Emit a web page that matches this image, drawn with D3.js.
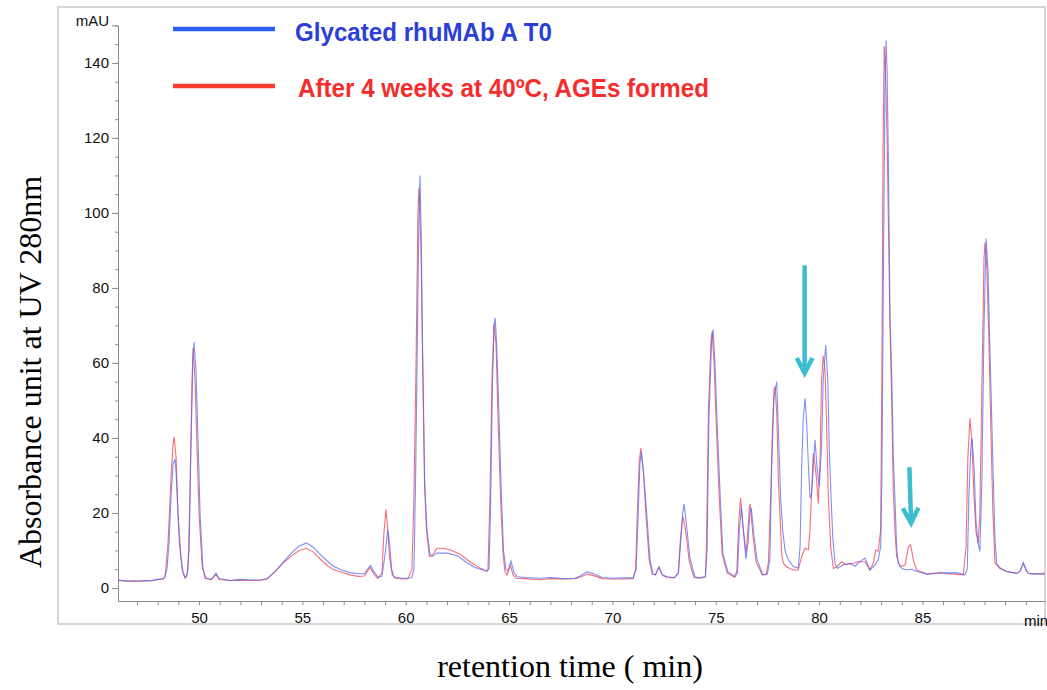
<!DOCTYPE html>
<html>
<head>
<meta charset="utf-8">
<script src="https://cdn.jsdelivr.net/npm/d3@7"></script>
<style>
  body { margin: 0; background: #fff; }
  .tick text { font-family: "Liberation Sans Narrow", "Arial Narrow", "Liberation Sans", Arial, sans-serif; font-size: 15px; fill: #111; }
  .axis path, .axis line { stroke: #8a8a8a; }
</style>
</head>
<body>
<div id="chart"></div>
<script>
// x ticks every minute, labels every 5 min
var xTicks = d3.range(47, 91);
var xLabels = [50, 55, 60, 65, 70, 75, 80, 85];
// y ticks every 5 mAU, labels every 20
var yMinor = d3.range(0, 151, 5);
var yLabels = [0, 20, 40, 60, 80, 100, 120, 140];

var legendNames = ["Glycated rhuMAb A T0", "After 4 weeks at 40ºC, AGEs formed"];

// [retention time (min), absorbance (mAU)]
var blueT0 = [
  [46.08,2.1],[46.5,1.9],[46.9,1.8],[47.3,2.0],[47.7,1.9],[47.97,2.3],[48.3,2.5],[48.45,5],[48.55,12],[48.65,25],
  [48.75,33],[48.84,34.4],[48.9,30],[48.98,20],[49.05,12],[49.18,5],[49.32,2.8],[49.42,3.5],[49.52,10],[49.6,35],
  [49.7,60],[49.76,65.6],[49.85,58],[49.95,40],[50.05,20],[50.19,5],[50.35,2.5],[50.6,2.3],[50.82,4],[50.97,2.5],
  [51.5,2.0],[52.0,2.3],[52.5,2.1],[53.0,2.2],[53.3,2.5],[53.7,4.5],[54.1,7],[54.5,9.5],[54.85,11.2],[55.2,12],
  [55.5,11],[55.85,9],[56.2,7.2],[56.5,5.8],[56.9,4.8],[57.3,4.1],[57.7,3.8],[58.0,3.8],[58.15,5],[58.3,6],
  [58.45,4.5],[58.65,2.9],[58.85,3.2],[58.98,8],[59.08,13],[59.14,15.5],[59.22,12],[59.32,5],[59.42,3],[59.8,2.6],
  [60.1,2.6],[60.3,2.8],[60.4,5],[60.48,30],[60.55,60],[60.63,95],[60.69,110],[60.75,94],[60.82,63],[60.92,28],
  [61.02,16],[61.17,9],[61.3,8.5],[61.5,9.3],[62.0,9.3],[62.5,8.6],[62.9,7],[63.3,5.6],[63.6,5.0],[63.92,4.6],
  [64.03,5],[64.1,20],[64.2,55],[64.28,70],[64.33,72],[64.4,65],[64.47,54],[64.61,28],[64.73,10],[64.85,5],
  [64.95,4.5],[65.09,7.2],[65.25,4],[65.4,3],[65.8,2.8],[66.5,2.6],[67.0,2.8],[67.6,2.5],[68.2,2.6],[68.5,3.4],
  [68.77,4.3],[69.1,3.8],[69.5,2.8],[70.0,2.6],[70.6,2.7],[71.0,2.7],[71.15,5],[71.25,20],[71.33,33],[71.4,36.3],
  [71.52,30],[71.67,19],[71.82,7.5],[71.96,3.7],[72.08,3.5],[72.25,5.6],[72.42,3.5],[72.64,3],[73.0,2.8],[73.2,4],
  [73.3,12],[73.4,20],[73.47,22.4],[73.58,17],[73.75,8],[73.99,3],[74.2,2.7],[74.5,3],[74.58,10],[74.67,45],
  [74.8,66],[74.87,69],[74.96,60],[75.06,45],[75.21,25],[75.35,9],[75.59,4.3],[75.93,3],[76.05,4],[76.14,15],
  [76.24,21.6],[76.35,15],[76.46,7.7],[76.56,12],[76.65,20],[76.72,21.3],[76.85,14],[77.0,7.5],[77.29,3.5],[77.5,3.8],
  [77.62,7.5],[77.71,33],[77.82,51],[77.95,55],[78.03,42],[78.14,24],[78.24,15.5],[78.35,10],[78.51,7.5],[78.75,5.7],
  [78.99,5.3],[79.08,11],[79.16,33],[79.24,45.7],[79.32,50.6],[79.4,44],[79.48,33],[79.56,24],[79.64,25],[79.8,39.5],
  [79.91,31.5],[80.01,27],[80.12,37.7],[80.2,55.5],[80.32,64.8],[80.42,55.5],[80.49,37.7],[80.58,24],[80.66,13.7],[80.77,6.6],
  [80.88,5.2],[81.17,6.2],[81.49,6.6],[81.74,5.8],[81.98,7.1],[82.22,8],[82.46,4.8],[82.7,6.1],[82.86,7.5],[82.98,11],
  [83.04,30],[83.12,90],[83.19,135],[83.24,146],[83.29,138],[83.35,115],[83.43,72.5],[83.53,53],[83.59,35],[83.67,24],
  [83.75,11],[83.83,6.6],[84.0,5.2],[84.24,4.8],[84.48,5],[84.72,4.4],[85.21,3.7],[85.85,4],[86.66,4.1],[87.06,3.5],
  [87.17,5],[87.25,25],[87.35,38],[87.4,40],[87.49,33],[87.59,18],[87.69,12],[87.78,9.7],[87.88,30],[87.98,70],
  [88.08,93.2],[88.17,85],[88.27,62.6],[88.41,33],[88.51,13],[88.59,6.6],[88.75,5.4],[89.07,4.4],[89.56,3.9],[89.72,4.5],
  [89.88,6.8],[90.0,5],[90.12,3.9],[90.37,3.7],[90.93,3.7]
];

var redAGE = [
  [46.08,2.0],[46.5,1.8],[46.9,1.9],[47.3,1.8],[47.7,2.0],[47.97,2.2],[48.25,2.4],[48.36,3],[48.5,12],[48.65,30],
  [48.74,38],[48.79,40.3],[48.89,35],[48.98,20],[49.13,8],[49.23,4],[49.32,2.6],[49.4,3],[49.47,5],[49.56,25],
  [49.66,55],[49.71,64],[49.81,55],[49.9,38],[50.0,20],[50.15,6],[50.29,2.6],[50.6,2.2],[50.82,3.6],[50.97,2.3],
  [51.5,2.0],[52.0,2.1],[52.5,2.0],[53.0,2.1],[53.3,2.4],[53.7,4.5],[54.1,6.8],[54.5,8.7],[54.85,10],[55.2,10.6],
  [55.5,9.7],[55.85,7.8],[56.2,6],[56.5,4.9],[56.9,4.2],[57.3,3.5],[57.7,3.1],[58.0,3.2],[58.15,4.5],[58.27,5.5],
  [58.45,3.8],[58.65,2.5],[58.85,4],[58.95,15],[59.05,21],[59.12,16],[59.22,8],[59.35,3.5],[59.5,2.6],[59.8,2.4],
  [60.1,2.5],[60.3,5],[60.4,25],[60.5,60],[60.59,100],[60.64,106.7],[60.74,90],[60.81,63],[60.91,28],[61.01,15],
  [61.15,8.4],[61.27,8.5],[61.51,10.6],[61.8,10.6],[62.14,10.2],[62.63,9],[63.1,7],[63.6,5.3],[63.93,4.4],[63.98,5],
  [64.08,25],[64.17,55],[64.27,70.6],[64.37,65],[64.44,50],[64.58,25],[64.71,9],[64.8,4.5],[64.9,3.5],[65.07,6],
  [65.19,3.5],[65.34,2.6],[65.8,2.5],[66.5,2.2],[67.0,2.5],[67.6,2.4],[68.2,2.5],[68.5,3],[68.77,3.7],[69.1,3.3],
  [69.5,2.5],[70.0,2.4],[70.6,2.4],[71.0,2.5],[71.12,5],[71.22,22],[71.3,34],[71.38,37.3],[71.5,31],[71.63,19],
  [71.78,7.5],[71.93,3.7],[72.08,3.5],[72.25,5.6],[72.42,3.4],[72.64,2.8],[73.0,2.7],[73.18,4],[73.28,12],[73.38,18],
  [73.42,19],[73.55,15],[73.72,7],[73.95,2.8],[74.2,2.6],[74.5,3],[74.55,12],[74.65,48],[74.77,66],[74.82,68.3],
  [74.92,60],[75.02,44],[75.17,24],[75.31,9],[75.55,4],[75.9,2.9],[76.02,4.5],[76.12,18],[76.2,24],[76.32,16],
  [76.46,9.3],[76.54,14],[76.62,21],[76.67,22.4],[76.8,14],[76.95,7],[77.25,3.5],[77.45,3.6],[77.55,7],[77.66,25],
  [77.75,44],[77.82,53],[77.87,53.7],[77.95,46.7],[78.03,28.8],[78.14,15.5],[78.2,8.4],[78.27,6.6],[78.43,5.6],[78.75,4.8],
  [78.99,4.8],[79.16,8.4],[79.32,10.6],[79.48,10.2],[79.56,15.5],[79.64,26],[79.72,36],[79.8,33],[79.88,28.8],[79.96,22.5],
  [80.04,33],[80.12,55.5],[80.2,62],[80.29,58],[80.37,42],[80.45,24],[80.56,11],[80.69,5.2],[80.85,5.6],[81.09,7],
  [81.33,6.2],[81.65,6.6],[81.9,7],[82.22,7],[82.46,4.8],[82.62,6.6],[82.75,10.1],[82.86,9.8],[82.98,15.5],[83.04,60],
  [83.09,115],[83.15,144.5],[83.21,138],[83.29,120],[83.36,95],[83.43,70],[83.53,45],[83.59,26],[83.67,15.5],[83.75,8.4],
  [83.91,5.7],[84.16,6.1],[84.32,11],[84.43,11.5],[84.56,7.5],[84.72,4.8],[85.04,4.1],[85.21,3.7],[85.85,4.1],[86.49,3.7],
  [86.98,3.5],[87.11,11],[87.2,35],[87.3,45.3],[87.4,38],[87.49,25],[87.59,15],[87.7,11.9],[87.78,20],[87.88,55],
  [87.98,88],[88.03,92.2],[88.12,85],[88.22,65],[88.32,40],[88.41,20],[88.51,6.6],[88.75,5.2],[89.07,4.4],[89.56,3.9],
  [89.72,4.4],[89.88,6.5],[90.0,5],[90.12,3.9],[90.37,3.8],[90.93,3.9]
];

// arrows pointing at the changed peaks: start [t, mAU] -> tip [t, mAU]
var arrows = [
  [[79.3, 86], [79.3, 57.3]],
  [[84.37, 32.2], [84.45, 17.3]]
];

var width = 1047, height = 690;
var traceBlue = "#5568f2", traceRed = "#f25563";
var arrowColor = "#3bbdcd";

var svg = d3.select("#chart").append("svg")
  .attr("width", width)
  .attr("height", height)
  .style("display", "block");

svg.append("rect").attr("width", width).attr("height", height).attr("fill", "#fff");

// outer frame
svg.append("rect")
  .attr("x", 58).attr("y", 7)
  .attr("width", 987).attr("height", 617)
  .attr("fill", "none")
  .attr("stroke", "#c9c9c9")
  .attr("stroke-width", 1.5);

var x = d3.scaleLinear().domain([46.08, 90.93]).range([118, 1045]);
var y = d3.scaleLinear().domain([-3.47, 150]).range([601, 25.4]);

// y axis: minor ticks then the labelled ones
svg.append("g")
  .attr("class", "axis")
  .attr("transform", "translate(118,0)")
  .call(d3.axisLeft(y).tickValues(yMinor).tickSize(3).tickSizeOuter(0).tickFormat(""));

var yMajor = svg.append("g")
  .attr("class", "axis")
  .attr("transform", "translate(118,0)")
  .call(d3.axisLeft(y).tickValues(yLabels.concat([150])).tickSize(6).tickSizeOuter(0).tickPadding(3)
    .tickFormat(d => d == 150 ? "mAU" : d));
yMajor.select(".domain").remove();
// unit label sits a little above its tick
yMajor.selectAll(".tick").filter(d => d == 150).select("text").attr("y", -5);

// x axis
svg.append("g")
  .attr("class", "axis")
  .attr("transform", "translate(0,601)")
  .call(d3.axisBottom(x).tickValues(xTicks).tickSize(4).tickSizeOuter(0).tickPadding(7)
    .tickFormat(d => xLabels.indexOf(d) >= 0 ? d : ""));

svg.append("text")
  .attr("x", 1024).attr("y", 626)
  .style("font-family", "'Liberation Sans Narrow', 'Liberation Sans', Arial, sans-serif")
  .style("font-size", "15px")
  .text("min");

// traces
var line = d3.line()
  .x(d => x(d[0]))
  .y(d => y(d[1]));

svg.append("path")
  .datum(redAGE)
  .attr("d", line)
  .attr("fill", "none")
  .attr("stroke", traceRed)
  .attr("stroke-opacity", 0.85)
  .attr("stroke-width", 1.1);

svg.append("path")
  .datum(blueT0)
  .attr("d", line)
  .attr("fill", "none")
  .attr("stroke", traceBlue)
  .attr("stroke-opacity", 0.75)
  .attr("stroke-width", 1.1);

// arrows
arrows.forEach(function (a) {
  var x0 = x(a[0][0]), y0 = y(a[0][1]);
  var x1 = x(a[1][0]), y1 = y(a[1][1]);
  var ang = Math.atan2(y1 - y0, x1 - x0);
  var len = 17, spread = 0.48;
  svg.append("line")
    .attr("x1", x0).attr("y1", y0)
    .attr("x2", x1 - 2 * Math.cos(ang)).attr("y2", y1 - 2 * Math.sin(ang))
    .attr("stroke", arrowColor)
    .attr("stroke-width", 4.5);
  svg.append("polyline")
    .attr("points", [
      [x1 - len * Math.cos(ang - spread), y1 - len * Math.sin(ang - spread)],
      [x1, y1],
      [x1 - len * Math.cos(ang + spread), y1 - len * Math.sin(ang + spread)]
    ].map(p => p.join(",")).join(" "))
    .attr("fill", "none")
    .attr("stroke", arrowColor)
    .attr("stroke-width", 4.5)
    .attr("stroke-linejoin", "miter");
});

// legend
var legend = [
  { name: legendNames[0], line: "#2c5ef2", text: "#2b3fd8", ly: 29, ty: 40.5, tx: 295, len: 257 },
  { name: legendNames[1], line: "#ff3b30", text: "#f52c2c", ly: 86, ty: 96.5, tx: 298, len: 411 }
];
legend.forEach(function (l) {
  svg.append("line")
    .attr("x1", 173).attr("x2", 275)
    .attr("y1", l.ly).attr("y2", l.ly)
    .attr("stroke", l.line)
    .attr("stroke-width", 4.5);
  svg.append("text")
    .attr("x", l.tx).attr("y", l.ty)
    .attr("textLength", l.len)
    .attr("lengthAdjust", "spacingAndGlyphs")
    .style("font-family", "'Liberation Sans', Arial, sans-serif")
    .style("font-weight", "bold")
    .style("font-size", "26px")
    .style("fill", l.text)
    .text(l.name);
});

// axis titles
svg.append("text")
  .attr("transform", "translate(41,372) rotate(-90)")
  .attr("text-anchor", "middle")
  .style("font-family", "'Liberation Serif', 'Times New Roman', serif")
  .style("font-size", "32px")
  .text("Absorbance unit at UV 280nm");

svg.append("text")
  .attr("x", 570).attr("y", 677)
  .attr("text-anchor", "middle")
  .style("font-family", "'Liberation Serif', 'Times New Roman', serif")
  .style("font-size", "32px")
  .text("retention time ( min)");
</script>
</body>
</html>
